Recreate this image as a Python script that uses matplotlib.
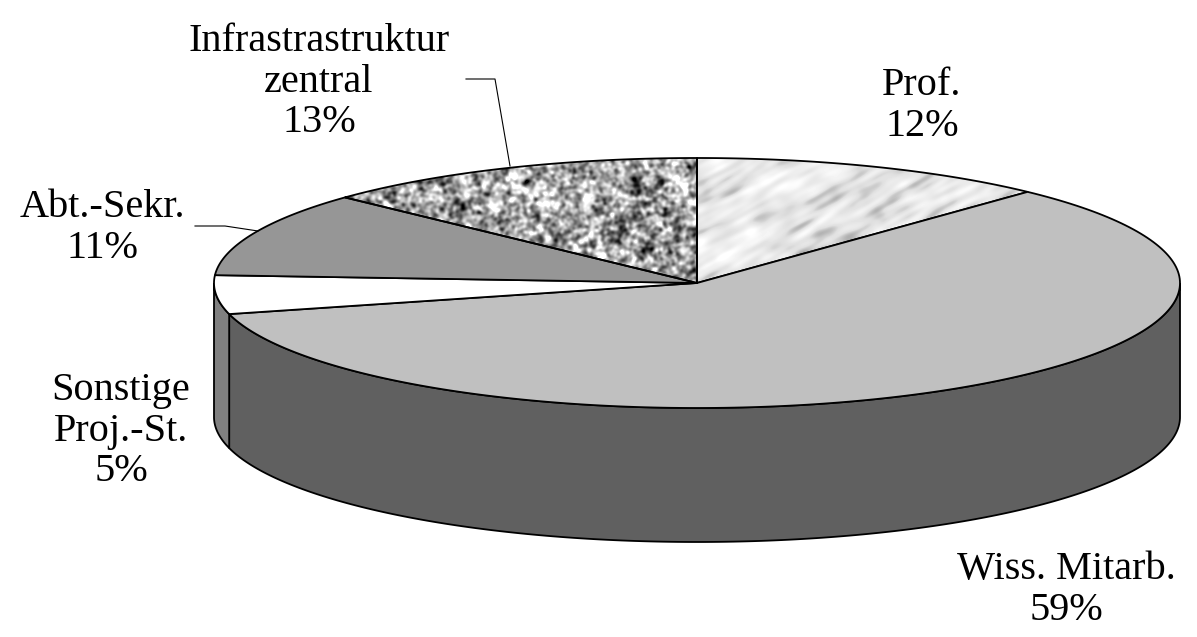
import matplotlib

matplotlib.use("Agg")
import matplotlib.pyplot as plt
import numpy as np
from matplotlib.patches import Polygon

# Pie contents, clockwise from 12 o'clock
shares = [12, 59, 5, 11, 13]
top_colors = [None, "#c0c0c0", "#ffffff", "#969696", None]
side_colors = ["#808080", "#606060", "#808080", "#6e6e6e", "#777777"]

labels = ["Prof.\n12%", "Wiss. Mitarb.\n59%", "Sonstige\nProj.-St.\n5%", "Abt.-Sekr.\n11%",
          "Infrastrastruktur\nzentral\n13%"]
label_x = [922, 1066, 121, 102, 319]
label_y = [106, 590, 431, 228, 82]

# Leader lines for the two upper left labels
leader_abt_x = [195, 225, 258]
leader_abt_y = [226, 226, 231]
leader_infra_x = [466, 495, 510]
leader_infra_y = [79, 79, 166]

# Disc geometry in pixels
cx, cy = 697, 283
rx, ry = 483, 125
depth = 134


def rim(start, stop, n=200):
    # Points along the top ellipse, angle in degrees clockwise from the top
    a = np.radians(np.linspace(start, stop, n))
    return cx + rx * np.sin(a), cy - ry * np.cos(a)


def texture(width, height, sigma_u, sigma_v, angle, seed):
    # Smoothed noise in the frequency domain, stretched along a direction
    rng = np.random.default_rng(seed)
    noise = rng.standard_normal((height, width))
    fy = np.fft.fftfreq(height)[:, None]
    fx = np.fft.fftfreq(width)[None, :]
    t = np.radians(angle)
    u = fx * np.cos(t) + fy * np.sin(t)
    v = -fx * np.sin(t) + fy * np.cos(t)
    kernel = np.exp(-2 * np.pi**2 * ((u * sigma_u) ** 2 + (v * sigma_v) ** 2))
    out = np.fft.ifft2(np.fft.fft2(noise) * kernel).real
    return (out - out.mean()) / out.std()


fig = plt.figure(figsize=(11.97, 6.37), dpi=100)
ax = fig.add_axes([0, 0, 1, 1])
ax.set_xlim(0, 1197)
ax.set_ylim(637, 0)
ax.axis("off")

plt.rcParams["font.family"] = ["Liberation Serif", "DejaVu Serif"]

edges = np.cumsum([0] + shares) * 3.6

# Outer wall, only the front half of the disc is visible
for i, share in enumerate(shares):
    start, stop = max(edges[i], 90), min(edges[i + 1], 270)
    if start >= stop:
        continue
    x, y = rim(start, stop)
    wall = np.column_stack([np.r_[x, x[::-1]], np.r_[y, y[::-1] + depth]])
    ax.add_patch(Polygon(wall, closed=True, fc=side_colors[i], ec="black", lw=1.3, zorder=1))

# Stone surfaces for the two textured slices
marble = texture(1197, 637, 12, 2.2, -28, 3) + 0.5 * texture(1197, 637, 5, 5, 0, 4)
marble = np.clip(0.905 - 0.035 * marble - 0.05 * np.clip(marble - 0.9, 0, None), 0, 1)
granite = texture(1197, 637, 1.6, 1.6, 0, 7) + 0.7 * texture(1197, 637, 3.5, 3.5, 0, 8)
granite = np.clip(0.64 + 0.17 * granite, 0, 1)
stone = {0: marble, 4: granite}

for i, share in enumerate(shares):
    x, y = rim(edges[i], edges[i + 1])
    wedge = np.column_stack([np.r_[cx, x], np.r_[cy, y]])
    if top_colors[i] is None:
        poly = Polygon(wedge, closed=True, fc="none", ec="none", transform=ax.transData)
        ax.add_patch(poly)
        img = ax.imshow(stone[i], cmap="gray", vmin=0, vmax=1, extent=(0, 1197, 637, 0),
                        aspect="auto", interpolation="bilinear", zorder=2)
        img.set_clip_path(poly)
        ax.add_patch(Polygon(wedge, closed=True, fc="none", ec="black", lw=1.3, joinstyle="round", zorder=3))
    else:
        ax.add_patch(Polygon(wedge, closed=True, fc=top_colors[i], ec="black", lw=1.3, joinstyle="round", zorder=3))

ax.set_xlim(0, 1197)
ax.set_ylim(637, 0)

ax.plot(leader_abt_x, leader_abt_y, color="black", lw=0.8, zorder=4)
ax.plot(leader_infra_x, leader_infra_y, color="black", lw=0.8, zorder=4)

for text, x, y in zip(labels, label_x, label_y):
    ax.text(x, y, text, ha="center", va="center", fontsize=29, color="black",
            linespacing=1.12, zorder=5)

fig.savefig("out.png", dpi=100)
